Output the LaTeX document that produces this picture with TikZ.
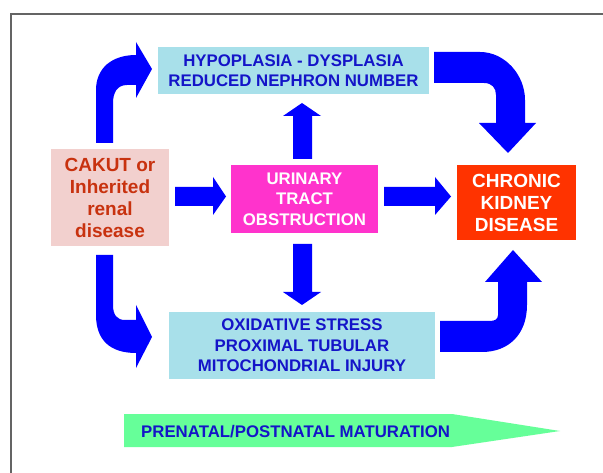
\documentclass[tikz,border=0pt]{standalone}
\usepackage{fontspec}
\setmainfont{Liberation Sans}
\definecolor{cyanbox}{RGB}{168,224,234}
\definecolor{pinkbox}{RGB}{242,208,206}
\definecolor{magbox}{RGB}{255,51,204}
\definecolor{redbox}{RGB}{255,51,0}
\definecolor{greenarr}{RGB}{102,255,153}
\definecolor{bluearr}{RGB}{0,0,255}
\definecolor{bluetext}{RGB}{20,20,200}
\definecolor{browntext}{RGB}{200,50,15}
\definecolor{framegray}{RGB}{100,100,100}
\tikzset{
  box/.style={inner sep=0pt, align=center, font=\bfseries\fontsize{16.8}{20.5}\selectfont},
  bigbox/.style={inner sep=0pt, align=center, font=\bfseries\fontsize{19}{22}\selectfont},
  blockarrow/.style={fill=bluearr, draw=none},
}
\begin{document}
\begin{tikzpicture}[x=1pt,y=-1pt]
\useasboundingbox (0,0) rectangle (603,473);
\fill[white] (0,0) rectangle (603,473);
% frame
\draw[framegray, line width=1.3pt] (11,480) -- (11,14) -- (610,14);

% boxes
\node[box, fill=cyanbox, text=bluetext, minimum width=271pt, minimum height=47pt] (hypo) at (293.5,70.5)
  {HYPOPLASIA - DYSPLASIA\\REDUCED NEPHRON NUMBER};
\node[bigbox, fill=pinkbox, text=browntext, minimum width=118pt, minimum height=97pt] (cakut) at (110,197.5)
  {CAKUT or\\Inherited\\renal\\disease};
\node[box, fill=magbox, text=white, minimum width=147pt, minimum height=68pt] (uto) at (304.5,199)
  {URINARY\\TRACT\\OBSTRUCTION};
\node[bigbox, fill=redbox, text=white, minimum width=119pt, minimum height=75pt] (ckd) at (516.5,202.5)
  {CHRONIC\\KIDNEY\\DISEASE};
\node[box, fill=cyanbox, text=bluetext, minimum width=266pt, minimum height=67pt] (oxid) at (302,345.5)
  {OXIDATIVE STRESS\\PROXIMAL TUBULAR\\MITOCHONDRIAL INJURY};

% green maturation arrow
\fill[greenarr] (124,414) -- (452,414) -- (560,431) -- (452,447) -- (124,447) -- cycle;
\node[box, text=bluetext, anchor=west] (mat) at (141,432) {PRENATAL/POSTNATAL MATURATION};

% straight block arrows
\fill[blockarrow] (175,187) -- (213,187) -- (213,177) -- (226,196.5) -- (213,215) -- (213,206) -- (175,206) -- cycle;
\fill[blockarrow] (384,187) -- (435,187) -- (435,177) -- (451,196.5) -- (435,215) -- (435,206) -- (384,206) -- cycle;
\fill[blockarrow] (293,159) -- (293,116) -- (283,116) -- (302,103) -- (321,116) -- (312,116) -- (312,159) -- cycle;
\fill[blockarrow] (293,244) -- (293,292) -- (283,292) -- (302,305) -- (321,292) -- (312,292) -- (312,244) -- cycle;

% curved arrows
\fill[blockarrow] (96,143) -- (96,90) .. controls (96,68) and (112,55) .. (136,55) -- (136,42) -- (152,69)
  -- (136,98) -- (136,85) -- (127,85) .. controls (117,85) and (113,93) .. (113,103) -- (113,143) -- cycle;
\fill[blockarrow] (96,255) -- (96,315) .. controls (96,340) and (110,353) .. (136,353) -- (136,368) -- (152,337)
  -- (136,305) -- (136,320) -- (125,320) .. controls (117,320) and (113,315) .. (113,305) -- (113,255) -- cycle;
\fill[blockarrow] (434,52) -- (480,52) .. controls (505,52) and (525,75) .. (525,100) -- (525,123) -- (536,123)
  -- (508,153) -- (479,123) -- (496,123) -- (496,95) .. controls (496,88) and (492,83) .. (484,83) -- (434,83) -- cycle;
\fill[blockarrow] (440,352) -- (482,352) .. controls (508,352) and (527,335) .. (527,305) -- (527,282) -- (542,282)
  -- (513,250) -- (485,282) -- (498,282) -- (498,315) .. controls (498,319) and (495,321) .. (490,321) -- (440,321) -- cycle;
\end{tikzpicture}
\end{document}
